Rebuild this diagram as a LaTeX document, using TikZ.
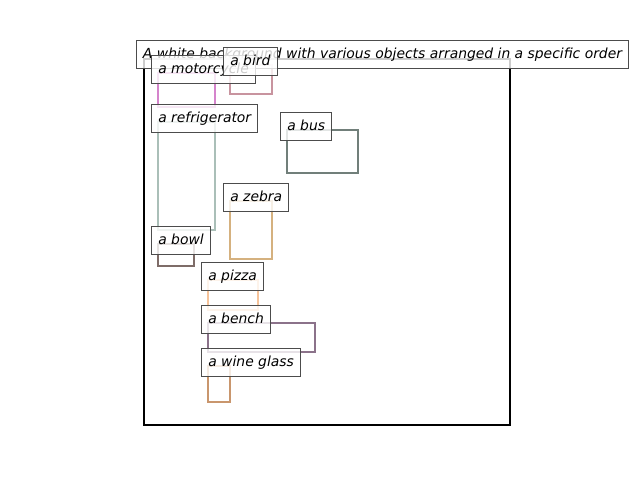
\documentclass[tikz,border=0pt]{standalone}
\usepackage{fontspec}
\setmainfont{DejaVu Sans}
\begin{document}
\begin{tikzpicture}[x=0.72pt,y=-0.72pt,
  objbox/.style={line width=1.9pt},
  lbl/.style={draw=black!70, line width=0.72pt, fill=white, fill opacity=0.8, text opacity=1,
    anchor=north west, inner xsep=4.9pt, inner ysep=5pt, text height=8pt, text depth=2.2pt,
    font=\fontsize{10pt}{12pt}\selectfont\itshape}]
\useasboundingbox (0,0) rectangle (640,480);
\fill[white] (0,0) rectangle (640,480);
% frame
\draw[line width=1.8pt, black] (144,59) rectangle (510,425);
% object boxes
\definecolor{cMoto}{HTML}{D584CC}
\definecolor{cBird}{HTML}{C8949F}
\definecolor{cFridge}{HTML}{AABFB8}
\definecolor{cBus}{HTML}{717F7A}
\definecolor{cZebra}{HTML}{D5B17F}
\definecolor{cBowl}{HTML}{7E6C68}
\definecolor{cPizza}{HTML}{F6C39A}
\definecolor{cBench}{HTML}{8B728A}
\definecolor{cWine}{HTML}{C9966D}
\draw[objbox, cMoto]   (158,73)  rectangle (215,107);
\draw[objbox, cBird]   (230,65)  rectangle (272,94);
\draw[objbox, cFridge] (158,122) rectangle (215,230);
\draw[objbox, cBus]    (287,130) rectangle (358,173);
\draw[objbox, cZebra]  (230,201) rectangle (272,259);
\draw[objbox, cBowl]   (158,244) rectangle (194,266);
\draw[objbox, cPizza]  (208,280) rectangle (258,310);
\draw[objbox, cBench]  (208,323) rectangle (315,352);
\draw[objbox, cWine]   (208,366) rectangle (230,402);
% title
\node[lbl, anchor=north] (title) at (382.5,40) {A white background with various objects arranged in a specific order};
% labels
\node[lbl] (lmoto)   at (151,55)  {a motorcycle};
\node[lbl] (lbird)   at (223,47)  {a bird};
\node[lbl] (lfridge) at (151,104) {a refrigerator};
\node[lbl] (lbus)    at (280,112) {a bus};
\node[lbl] (lzebra)  at (223,183) {a zebra};
\node[lbl] (lbowl)   at (151,226) {a bowl};
\node[lbl] (lpizza)  at (201,262) {a pizza};
\node[lbl] (lbench)  at (201,305) {a bench};
\node[lbl] (lwine)   at (201,348) {a wine glass};
\end{tikzpicture}
\end{document}
